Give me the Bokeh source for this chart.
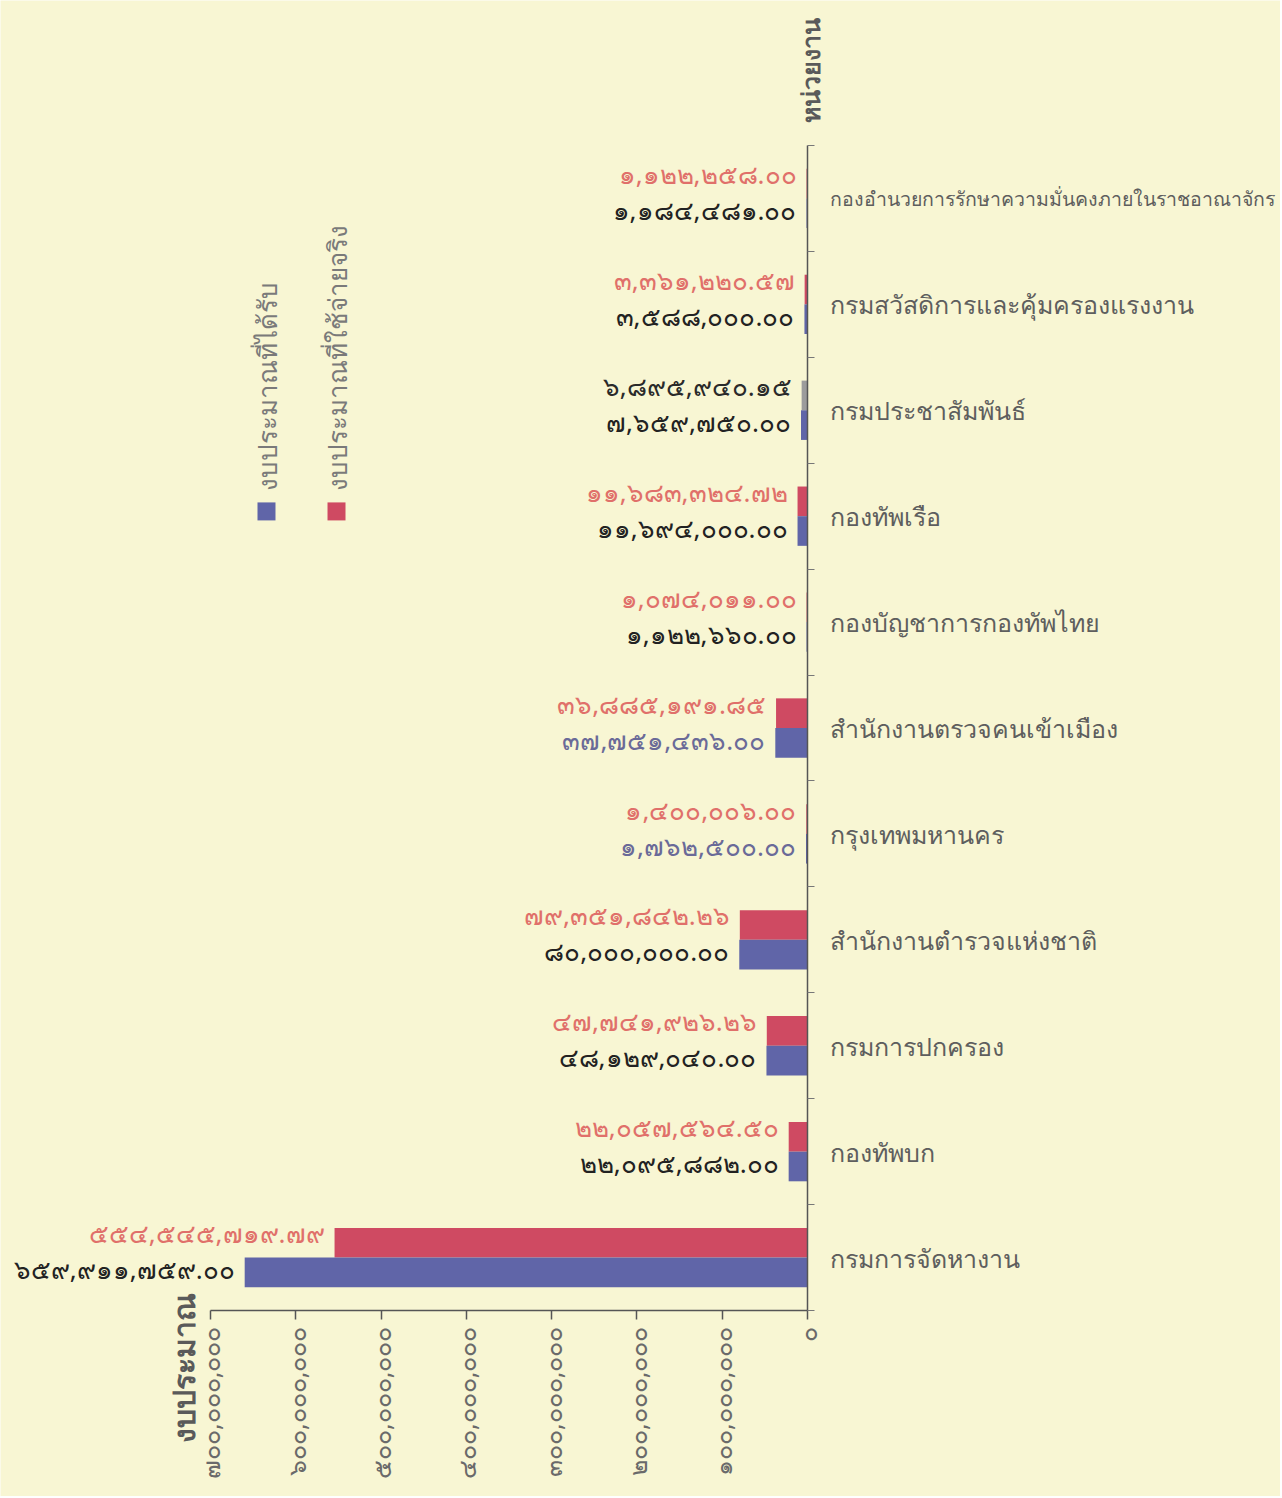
import math
from bokeh.plotting import figure
from bokeh.models import (ColumnDataSource, Range1d, FixedTicker,
                          Label, BoxAnnotation)
from bokeh.transform import dodge
from bokeh.core.properties import value
from bokeh.embed import file_html
from bokeh.resources import INLINE

# ---------------- data ----------------
categories = [
    "กองอำนวยการรักษาความมั่นคงภายในราชอาณาจักร",
    "กรมสวัสดิการและคุ้มครองแรงงาน",
    "กรมประชาสัมพันธ์",
    "กองทัพเรือ",
    "กองบัญชาการกองทัพไทย",
    "สำนักงานตรวจคนเข้าเมือง",
    "กรุงเทพมหานคร",
    "สำนักงานตำรวจแห่งชาติ",
    "กรมการปกครอง",
    "กองทัพบก",
    "กรมการจัดหางาน",
]
spent = [1122258.00, 3361220.57, 6895940.15, 11683324.72, 1074011.00,
         36885191.85, 1400006.00, 79351842.26, 47741926.26, 22057564.50,
         554545719.79]
budget = [1184481.00, 3588000.00, 7659750.00, 11694000.00, 1122660.00,
          37751436.00, 1762500.00, 80000000.00, 48129040.00, 22095882.00,
          659911759.00]
x_ticks = [0, 100000000, 200000000, 300000000, 400000000, 500000000,
           600000000, 700000000]
series_names = ["งบประมาณที่ใช้จ่ายจริง", "งบประมาณที่ได้รับ"]
x_title = "งบประมาณ"
y_title = "หน่วยงาน"

# ---------------- styles ----------------
BG = "#f8f6d3"
RED = "#cf4a62"
BLUE = "#6065a8"
GRAY_BAR = "#9c9c9c"
spent_bar_colors = [RED, RED, GRAY_BAR, RED, RED, RED, RED, RED, RED, RED, RED]
spent_text_colors = ["#e0706a", "#e0706a", "#2a2a2a", "#e0706a", "#e0706a",
                     "#e0706a", "#e0706a", "#e0706a", "#e0706a", "#e0706a", "#e0706a"]
budget_text_colors = ["#222222", "#222222", "#222222", "#222222", "#222222",
                      "#6a6a98", "#6a6a98", "#222222", "#222222", "#222222", "#222222"]
category_font_sizes = ["19.5px", "25px", "25px", "25px", "25px", "25px",
                       "25px", "25px", "25px", "25px", "25px"]

THAI = str.maketrans("0123456789", "๐๑๒๓๔๕๖๗๘๙")


def thai_num(v, dec=2):
    return (f"{v:,.{dec}f}").translate(THAI)


FONT = "Noto Sans"
N = len(categories)
# category slots: first category at the top
slot = [N - 0.5 - i for i in range(N)]

src = ColumnDataSource(dict(
    cat=categories,
    pos=slot,
    spent=spent,
    budget=budget,
    zero=[0] * N,
    spent_txt=[thai_num(v) for v in spent],
    budget_txt=[thai_num(v) for v in budget],
    spent_col=spent_bar_colors,
    spent_tcol=spent_text_colors,
    budget_tcol=budget_text_colors,
    cat_size=category_font_sizes,
))

# the frame covers the whole canvas; axes are pinned with fixed_location
p = figure(width=1280, height=1496,
           x_range=Range1d(946230000, -554600000),
           y_range=Range1d(-1.756, 12.369),
           y_axis_location="right", x_axis_location="below",
           output_backend="svg", toolbar_location=None,
           min_border=0, min_border_left=0, min_border_right=0,
           min_border_top=0, min_border_bottom=0)
p.background_fill_color = BG
p.border_fill_color = BG
p.outline_line_color = None
p.xgrid.visible = False
p.ygrid.visible = False

# bars
p.hbar(y=dodge("pos", 0.14), left="zero", right="spent",
       height=0.28, fill_color="spent_col", line_color=None, source=src)
p.hbar(y=dodge("pos", -0.14), left="zero", right="budget",
       height=0.28, fill_color=BLUE, line_color=None, source=src)

# value labels
p.text(x="spent", y=dodge("pos", 0.23), text="spent_txt",
       x_offset=-10, text_align="right", text_baseline="middle",
       text_font=value(FONT), text_font_size="26px", text_color="spent_tcol",
       source=src)
p.text(x="budget", y=dodge("pos", -0.11), text="budget_txt",
       x_offset=-10, text_align="right", text_baseline="middle",
       text_font=value(FONT), text_font_size="26px", text_color="budget_tcol",
       source=src)

# category names, right of the category axis
p.text(x="zero", y="pos", text="cat", x_offset=22, text_align="left",
       text_baseline="middle", text_font=value(FONT), text_font_size="cat_size",
       text_color="#5e5e5e", source=src)

# bottom value axis, pinned at y = 0
xa = p.xaxis[0]
xa.fixed_location = 0
xa.bounds = (0, 700000000)
xa.ticker = FixedTicker(ticks=x_ticks)
xa.major_label_overrides = {t: thai_num(t, 0) for t in x_ticks}
xa.major_label_orientation = math.pi / 2
xa.major_label_text_font = FONT
xa.major_label_text_font_size = "25px"
xa.major_label_text_color = "#6a6a6a"
xa.major_label_standoff = 7
xa.axis_line_color = "#555555"
xa.axis_line_width = 1.5
xa.major_tick_line_color = "#555555"
xa.major_tick_line_width = 1.5
xa.major_tick_out = 9
xa.major_tick_in = 0
xa.minor_tick_line_color = None

# right category axis, pinned at x = 0; minor ticks mark the slot boundaries
ya = p.yaxis[0]
ya.fixed_location = 0
ya.bounds = (0, N)
ya.ticker = FixedTicker(ticks=slot, minor_ticks=list(range(N + 1)))
ya.major_label_overrides = {s: "" for s in slot}
ya.major_label_text_font_size = "1px"
ya.axis_line_color = "#555555"
ya.axis_line_width = 1.5
ya.major_tick_line_color = None
ya.major_tick_out = 0
ya.major_tick_in = 0
ya.minor_tick_line_color = "#777777"
ya.minor_tick_line_width = 1
ya.minor_tick_out = 7
ya.minor_tick_in = 0

# axis titles (rotated)
p.add_layout(Label(x=731700000, y=-0.54, text=x_title, angle=math.pi / 2,
                   text_align="center", text_baseline="middle",
                   text_font=FONT, text_font_size="30px", text_font_style="bold",
                   text_color="#5a5a5a"))
p.add_layout(Label(x=-3500000, y=11.71, text=y_title, angle=math.pi / 2,
                   text_align="center", text_baseline="middle",
                   text_font=FONT, text_font_size="25px", text_font_style="bold",
                   text_color="#5a5a5a"))

# legend (rotated)
p.add_layout(BoxAnnotation(left=562800000, right=541700000, bottom=7.46, top=7.63,
                           fill_color=RED, fill_alpha=1, line_color=None))
p.add_layout(BoxAnnotation(left=644900000, right=623800000, bottom=7.46, top=7.63,
                           fill_color=BLUE, fill_alpha=1, line_color=None))
p.add_layout(Label(x=552000000, y=7.74, text=series_names[0], angle=math.pi / 2,
                   text_align="left", text_baseline="middle",
                   text_font=FONT, text_font_size="26px", text_color="#7a7a7a"))
p.add_layout(Label(x=634000000, y=7.74, text=series_names[1], angle=math.pi / 2,
                   text_align="left", text_baseline="middle",
                   text_font=FONT, text_font_size="26px", text_color="#7a7a7a"))

open("out.html", "w").write(file_html(p, INLINE))
